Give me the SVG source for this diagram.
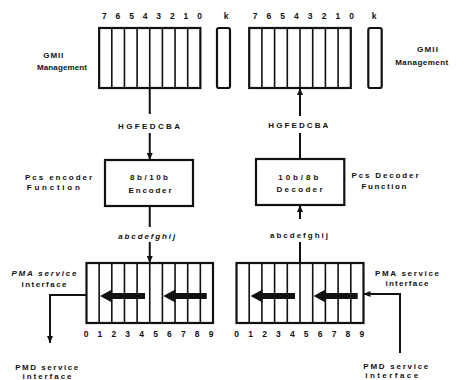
<svg xmlns="http://www.w3.org/2000/svg" width="465" height="380" viewBox="0 0 465 380">
<defs>
<marker id="ah" markerUnits="userSpaceOnUse" markerWidth="7" markerHeight="6" refX="7" refY="3" orient="auto">
<path d="M0,0 L7,3 L0,6 Z" fill="#111"/>
</marker>
<style>
.box{fill:none;stroke:#111;stroke-width:2.2}
.cell{stroke:#111;stroke-width:1.6}
.con{fill:none;stroke:#111;stroke-width:2}
.big{fill:#111}
text{font-family:"Liberation Sans",Arial,sans-serif;font-weight:bold;font-size:8px;fill:#111}
.dig{font-size:8.5px;text-anchor:middle}
.mid{text-anchor:middle}
.it{font-style:italic}
</style>
</defs>
<rect width="465" height="380" fill="#fff"/>

<g id="gmii-tx">
<rect class="box" x="99.15" y="28" width="101.2" height="60"/>
<path class="cell" d="M111.8,28V88M124.45,28V88M137.1,28V88M149.75,28V88M162.4,28V88M175.05,28V88M187.7,28V88"/>
<rect class="box" x="217" y="28" width="13" height="60" rx="2"/>
<text class="dig" x="104.3" y="19">7</text><text class="dig" x="117.9" y="19">6</text><text class="dig" x="131.5" y="19">5</text><text class="dig" x="145.1" y="19">4</text><text class="dig" x="158.7" y="19">3</text><text class="dig" x="172.3" y="19">2</text><text class="dig" x="185.9" y="19">1</text><text class="dig" x="199.5" y="19">0</text><text class="dig" x="226" y="19">k</text>
<text class="mid" x="53.3" y="57.5" textLength="20" lengthAdjust="spacing">GMII</text>
<text class="mid" x="62" y="70" textLength="50" lengthAdjust="spacing">Management</text>
</g>

<g id="gmii-rx">
<rect class="box" x="249.2" y="28" width="101.6" height="60"/>
<path class="cell" d="M261.9,28V88M274.6,28V88M287.3,28V88M300,28V88M312.7,28V88M325.4,28V88M338.1,28V88"/>
<rect class="box" x="368.3" y="28" width="13.4" height="60" rx="2"/>
<text class="dig" x="255" y="19">7</text><text class="dig" x="268.8" y="19">6</text><text class="dig" x="282.6" y="19">5</text><text class="dig" x="296.4" y="19">4</text><text class="dig" x="310.2" y="19">3</text><text class="dig" x="324" y="19">2</text><text class="dig" x="337.8" y="19">1</text><text class="dig" x="351.6" y="19">0</text><text class="dig" x="374" y="19">k</text>
<text class="mid" x="427.5" y="52" textLength="21" lengthAdjust="spacing">GMII</text>
<text class="mid" x="421.7" y="64.6" textLength="53" lengthAdjust="spacing">Management</text>
</g>

<g id="encoder">
<rect class="box" x="105" y="160" width="88" height="46"/>
<text class="mid" x="149" y="180" textLength="38" lengthAdjust="spacing">8b/10b</text>
<text class="mid" x="150" y="193" textLength="43" lengthAdjust="spacing">Encoder</text>
<text class="mid" x="58.5" y="179.6" textLength="67" lengthAdjust="spacing">Pcs encoder</text>
<text class="mid" x="53.3" y="190" textLength="53" lengthAdjust="spacing">Function</text>
</g>

<g id="decoder">
<rect class="box" x="256" y="159" width="88.3" height="46"/>
<text class="mid" x="298.3" y="180" textLength="40" lengthAdjust="spacing">10b/8b</text>
<text class="mid" x="299.5" y="192" textLength="46" lengthAdjust="spacing">Decoder</text>
<text class="mid" x="385" y="178" textLength="67" lengthAdjust="spacing">Pcs Decoder</text>
<text class="mid" x="384" y="189" textLength="45" lengthAdjust="spacing">Function</text>
</g>

<g id="pma-tx">
<rect class="box" x="86.5" y="263" width="126.5" height="60"/>
<path class="cell" d="M99.15,263V323M111.8,263V323M124.45,263V323M137.1,263V323M149.75,263V323M162.4,263V323M175.05,263V323M187.7,263V323M200.35,263V323"/>
<path class="big" d="M100,296 L112,289.5 L112,293 L145,293 L145,299 L112,299 L112,302.5 Z"/>
<path class="big" d="M163.3,296 L175.3,289.5 L175.3,293 L206.7,293 L206.7,299 L175.3,299 L175.3,302.5 Z"/>
<text class="dig" x="86" y="337">0</text><text class="dig" x="99.9" y="337">1</text><text class="dig" x="113.8" y="337">2</text><text class="dig" x="127.7" y="337">3</text><text class="dig" x="141.6" y="337">4</text><text class="dig" x="155.5" y="337">5</text><text class="dig" x="169.4" y="337">6</text><text class="dig" x="183.3" y="337">7</text><text class="dig" x="197.2" y="337">8</text><text class="dig" x="211.1" y="337">9</text>
<text class="mid it" x="44" y="276" textLength="65" lengthAdjust="spacing">PMA service</text>
<text class="mid" x="44" y="287" textLength="45" lengthAdjust="spacing">interface</text>
</g>

<g id="pma-rx">
<rect class="box" x="236.5" y="263" width="127" height="60"/>
<path class="cell" d="M249.2,263V323M261.9,263V323M274.6,263V323M287.3,263V323M300,263V323M312.7,263V323M325.4,263V323M338.1,263V323M350.8,263V323"/>
<path class="big" d="M250.5,296 L262.5,289.5 L262.5,293 L295,293 L295,299 L262.5,299 L262.5,302.5 Z"/>
<path class="big" d="M313.5,296 L325.5,289.5 L325.5,293 L357.7,293 L357.7,299 L325.5,299 L325.5,302.5 Z"/>
<text class="dig" x="236.7" y="337">0</text><text class="dig" x="250.6" y="337">1</text><text class="dig" x="264.5" y="337">2</text><text class="dig" x="278.4" y="337">3</text><text class="dig" x="292.3" y="337">4</text><text class="dig" x="306.2" y="337">5</text><text class="dig" x="320.1" y="337">6</text><text class="dig" x="334" y="337">7</text><text class="dig" x="347.9" y="337">8</text><text class="dig" x="361.8" y="337">9</text>
<text class="mid" x="407" y="276" textLength="64" lengthAdjust="spacing">PMA service</text>
<text class="mid" x="407" y="286" textLength="43" lengthAdjust="spacing">interface</text>
</g>

<g id="pmd-tx">
<text class="mid" x="46.7" y="369.5" textLength="63" lengthAdjust="spacing">PMD service</text>
<text class="mid" x="47" y="378.5" textLength="49" lengthAdjust="spacing">interface</text>
</g>
<g id="pmd-rx">
<text class="mid" x="395.8" y="368.5" textLength="65" lengthAdjust="spacing">PMD service</text>
<text class="mid" x="391.7" y="378" textLength="53" lengthAdjust="spacing">interface</text>
</g>

<g id="connectors">
<line class="con" x1="149.75" y1="88" x2="149.75" y2="114"/>
<text class="mid" x="149" y="129" textLength="62" lengthAdjust="spacing">HGFEDCBA</text>
<line class="con" x1="149.75" y1="133" x2="149.75" y2="160" marker-end="url(#ah)"/>
<line class="con" x1="149.75" y1="206" x2="149.75" y2="227"/>
<text class="mid it" x="146.7" y="238.7" textLength="57" lengthAdjust="spacing">abcdefghij</text>
<line class="con" x1="149.75" y1="242" x2="149.75" y2="263" marker-end="url(#ah)"/>

<line class="con" x1="300" y1="116" x2="300" y2="88" marker-end="url(#ah)"/>
<text class="mid" x="298.3" y="128" textLength="60" lengthAdjust="spacing">HGFEDCBA</text>
<line class="con" x1="300" y1="159" x2="300" y2="133"/>
<line class="con" x1="300" y1="219" x2="300" y2="205" marker-end="url(#ah)"/>
<text class="mid" x="299" y="238" textLength="58" lengthAdjust="spacing">abcdefghij</text>
<line class="con" x1="300" y1="263" x2="300" y2="242"/>

<polyline class="con" points="86.5,295 50,295 50,343" marker-end="url(#ah)"/>
<polyline class="con" points="400,353 400,294 363.5,294" marker-end="url(#ah)"/>
</g>
</svg>
